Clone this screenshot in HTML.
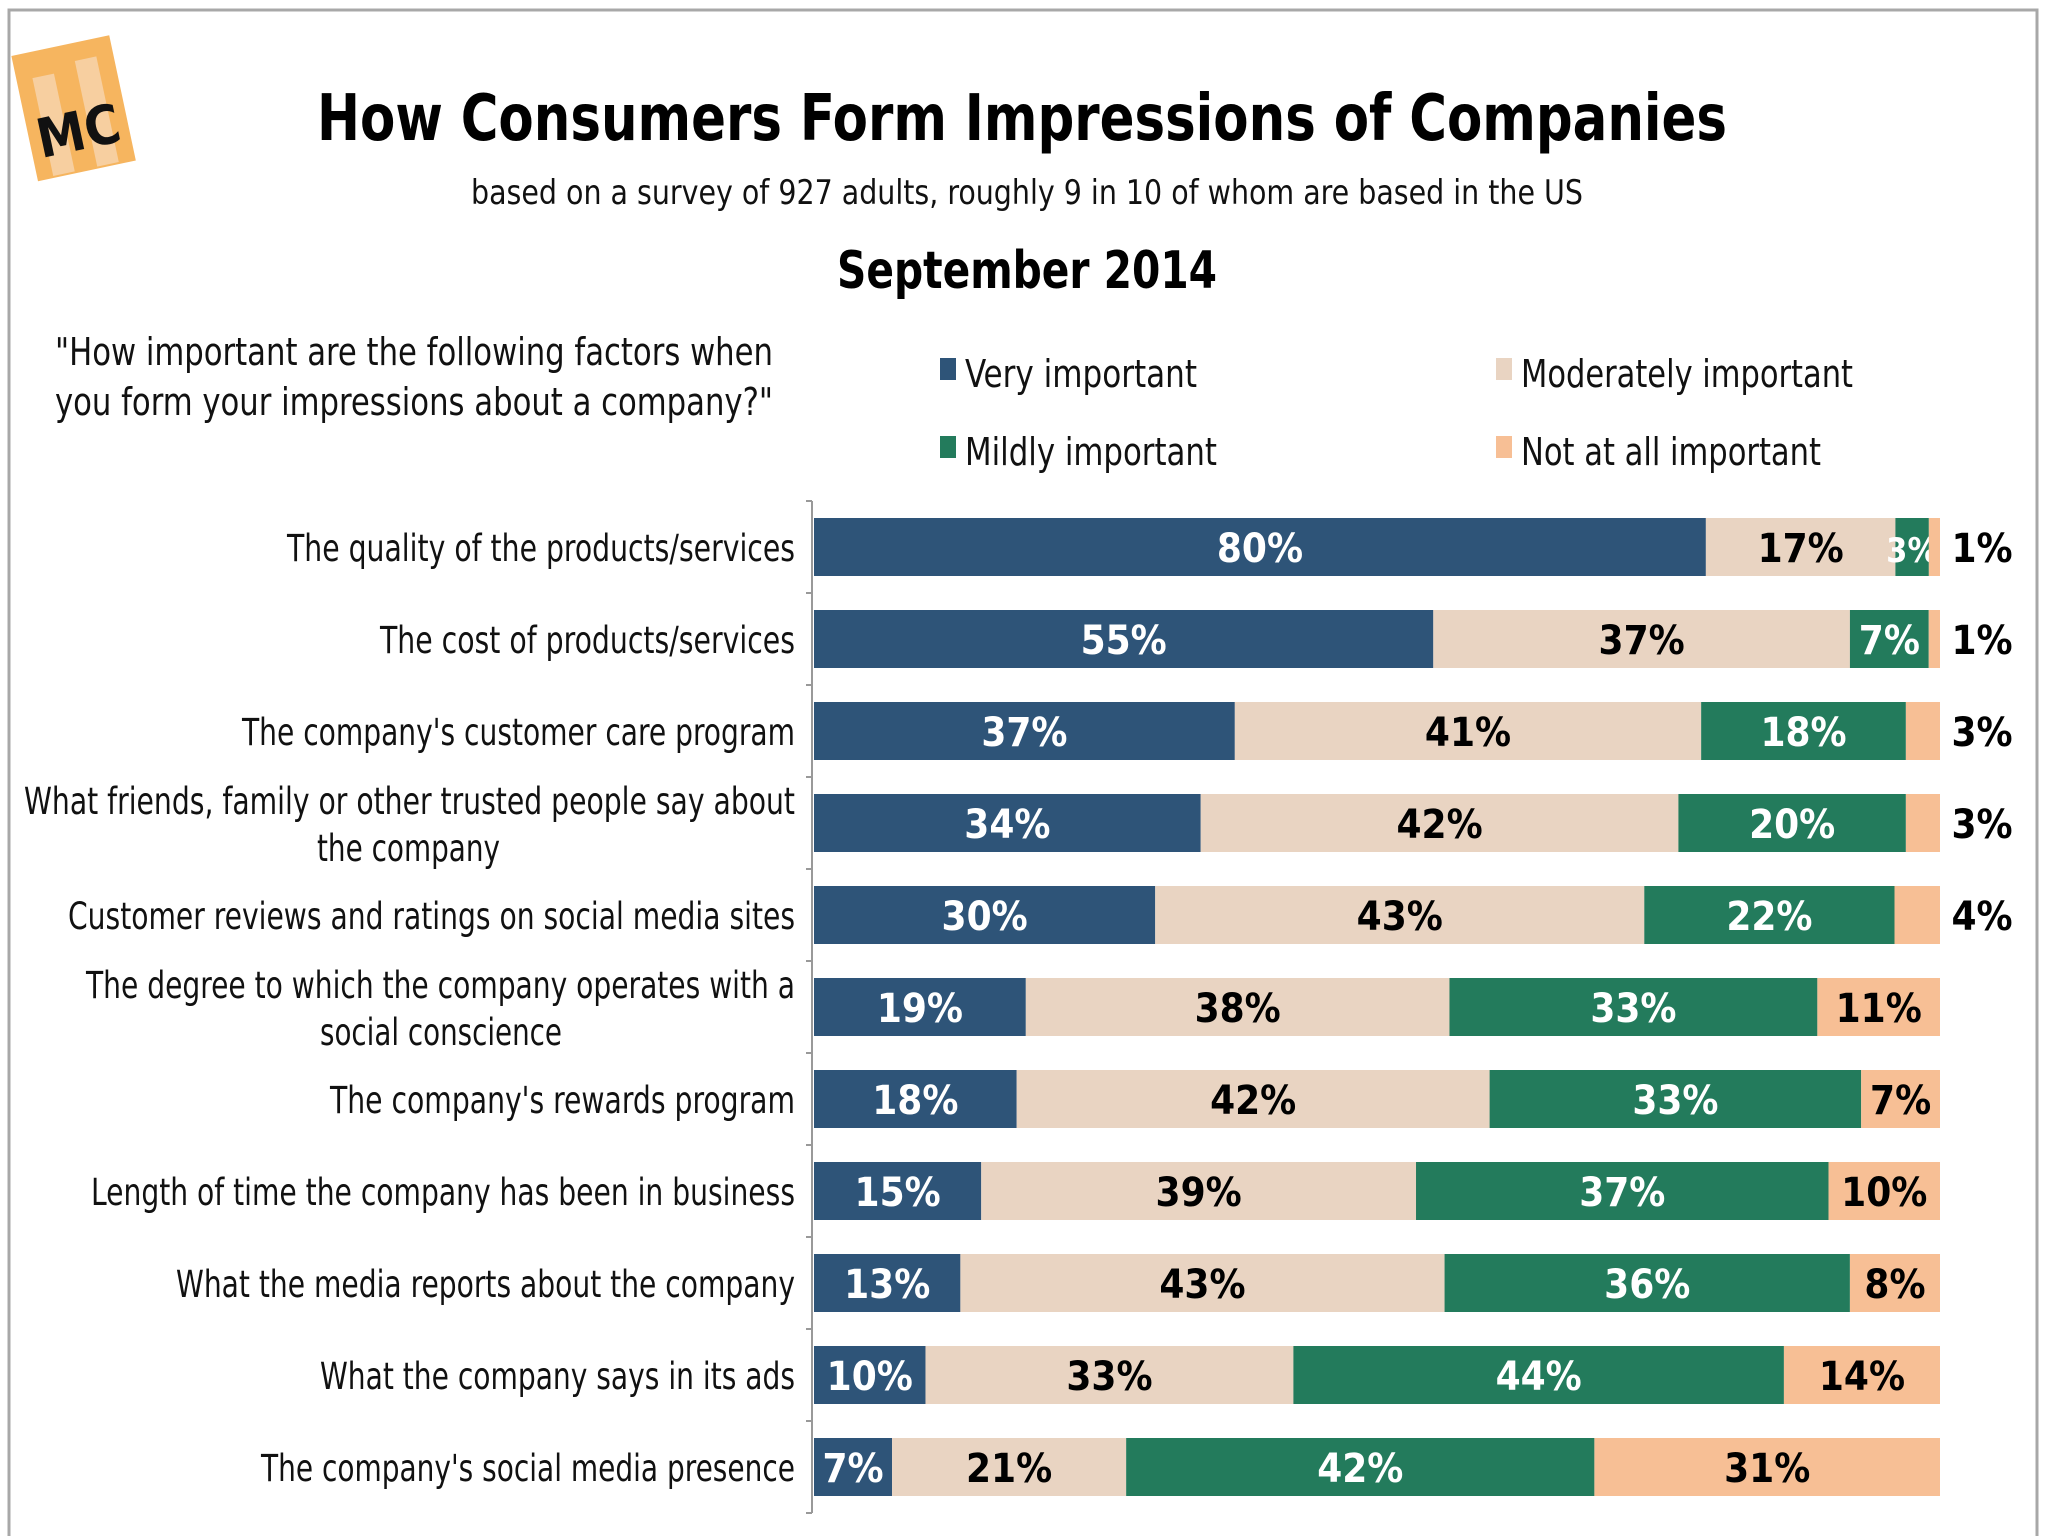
<!DOCTYPE html>
<html><head><meta charset="utf-8"><style>
html,body{margin:0;padding:0;background:#fff;}
svg{display:block;}
text{font-family:"DejaVu Sans Condensed","Liberation Sans Narrow","Liberation Sans",sans-serif;}
</style></head><body>
<svg id="chart" width="2048" height="1536" viewBox="0 0 2048 1536">
<rect x="0" y="0" width="2048" height="1536" fill="#fff"/>
<path d="M9 1536 V10 H2037 V1536" fill="none" stroke="#a8a8a8" stroke-width="3"/>
<g transform="rotate(-12 75 110)">
<rect x="24" y="44" width="100" height="128" fill="#f6b55f"/>
<rect x="40" y="70" width="22" height="100" fill="#f7cfa0"/>
<rect x="85" y="62" width="22" height="108" fill="#f7cfa0"/>
<text x="74" y="150" font-size="54" font-weight="bold" text-anchor="middle" fill="#111">MC</text>
</g>
<text x="1022" y="140" font-size="64" font-weight="bold" text-anchor="middle" textLength="1410" lengthAdjust="spacingAndGlyphs" fill="#000">How Consumers Form Impressions of Companies</text>
<text x="1027" y="204" font-size="34" text-anchor="middle" textLength="1112" lengthAdjust="spacingAndGlyphs" fill="#111">based on a survey of 927 adults, roughly 9 in 10 of whom are based in the US</text>
<text x="1027" y="288" font-size="52" font-weight="bold" text-anchor="middle" textLength="380" lengthAdjust="spacingAndGlyphs" fill="#000">September 2014</text>
<text x="55" y="365" font-size="38" textLength="718" lengthAdjust="spacingAndGlyphs" fill="#111">"How important are the following factors when</text>
<text x="55" y="415" font-size="38" textLength="718" lengthAdjust="spacingAndGlyphs" fill="#111">you form your impressions about a company?"</text>
<g id="legend"></g>
<g id="plot"></g>
</svg>
<script>
const categories = [
 ["The quality of the products/services"],
 ["The cost of products/services"],
 ["The company's customer care program"],
 ["What friends, family or other trusted people say about","the company"],
 ["Customer reviews and ratings on social media sites"],
 ["The degree to which the company operates with a","social conscience"],
 ["The company's rewards program"],
 ["Length of time the company has been in business"],
 ["What the media reports about the company"],
 ["What the company says in its ads"],
 ["The company's social media presence"]
];
const seriesNames = ["Very important","Moderately important","Mildly important","Not at all important"];
const veryImportant =      [80,55,37,34,30,19,18,15,13,10,7];
const moderatelyImportant =[17,37,41,42,43,38,42,39,43,33,21];
const mildlyImportant =    [3,7,18,20,22,33,33,37,36,44,42];
const notAtAllImportant =  [1,1,3,3,4,11,7,10,8,14,31];

const NS="http://www.w3.org/2000/svg";
const colors=["#2e5478","#e9d4c2","#237b5c","#f7bf95"];
const txtColors=["#fff","#000","#fff","#000"];
const series=[veryImportant,moderatelyImportant,mildlyImportant,notAtAllImportant];
const x0=814, plotW=1126, top0=547, pitch=92, barH=58;
const xScale=(v,total)=>x0+v/total*plotW;
const yCenter=i=>top0+i*pitch;
// label layout (left edge of each line, right edge 795)
const labelLeft=[[287],[380],[242],[24,317],[68],[86,320],[330],[91],[176],[320],[261]];
const labelRight=[[795],[795],[795],[795,500],[795],[795,562],[795],[795],[795],[795],[795]];
function el(tag,attrs,parent){const e=document.createElementNS(NS,tag);for(const k in attrs)e.setAttribute(k,attrs[k]);parent.appendChild(e);return e;}
const plot=document.getElementById('plot');
const legend=document.getElementById('legend');
const legPos=[[940,387],[1496,387],[940,465],[1496,465]];
const legW=[232,332,252,300];
[0,1,2,3].forEach(s=>{
 const [lx,ly]=legPos[s];
 const r=el('rect',{x:lx,y:ly-29,width:16,height:22,fill:colors[s]},legend);
 
 
 const t=el('text',{x:lx+25,y:ly,'font-size':38,fill:'#111',textLength:legW[s],lengthAdjust:'spacingAndGlyphs'},legend);
 t.textContent=seriesNames[s];
 
 
});
const n=categories.length;
const ax=el('line',{x1:x0-2,y1:top0-pitch/2,x2:x0-2,y2:yCenter(n-1)+pitch/2,stroke:'#999','stroke-width':2},plot);


for(let i=0;i<=n;i++){
 const ty=top0-pitch/2+i*pitch;
 const tk=el('line',{x1:x0-8,y1:ty,x2:x0-2,y2:ty,stroke:'#999','stroke-width':2},plot);
 
 
}
categories.forEach((lines,i)=>{
 const yc=yCenter(i);
 lines.forEach((ln,j)=>{
  const off=lines.length===1?14:(j===0?-9:38);
  const lx=labelLeft[i][j], rx=labelRight[i][j];
  const t=el('text',{x:lx,y:yc+off,'font-size':37,fill:'#111',textLength:rx-lx,lengthAdjust:'spacingAndGlyphs'},plot);
  t.textContent=ln;
  
  
 });
 const total=series.reduce((a,s)=>a+s[i],0);
 let acc=0;
 series.forEach((s,k)=>{
  const v=s[i];
  const xa=xScale(acc,total), xb=xScale(acc+v,total);
  const r=el('rect',{x:xa,y:yc-barH/2,width:xb-xa,height:barH,fill:colors[k]},plot);
  
  
  const outside=(k===3&&v<=4);
  const t=el('text',{x:outside?1982:(xa+xb)/2,y:yc+15,'font-size':40,'font-weight':'bold','text-anchor':'middle',fill:outside?'#000':txtColors[k]},plot);
  t.textContent=v+'%';
  
  
  if(!outside && (xb-xa)<40){t.setAttribute('font-size',34);}
  acc+=v;
 });
});
</script>
</body></html>
